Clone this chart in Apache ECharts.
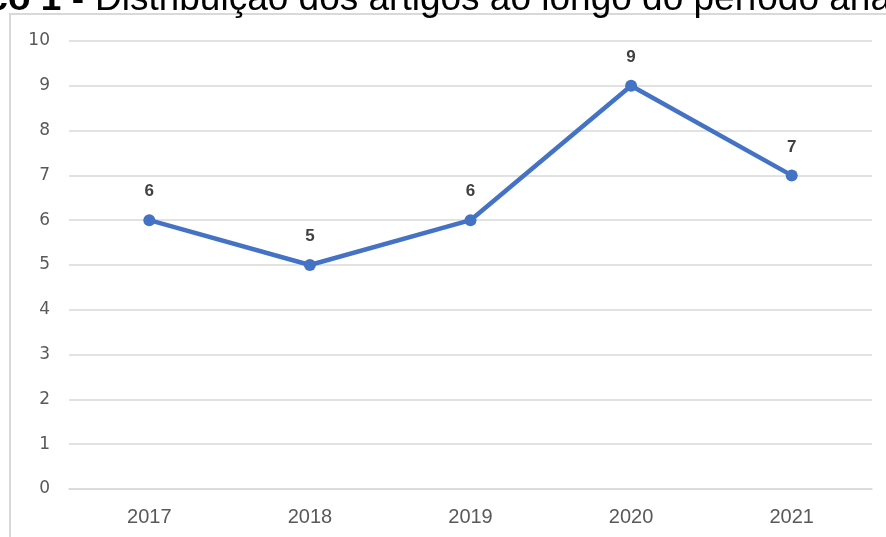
<!DOCTYPE html>
<html><head><meta charset="utf-8">
<script src="https://cdn.jsdelivr.net/npm/echarts@6/dist/echarts.min.js"></script>
<style>html,body{margin:0;padding:0;background:#fff}#c{width:886px;height:537px}</style>
</head><body><div id="c"></div>
<script>
const categories = ['2017', '2018', '2019', '2020', '2021'];
const values = [6, 5, 6, 9, 7];
const yTicks = [0, 1, 2, 3, 4, 5, 6, 7, 8, 9, 10];
const titlePrefix = 'Gráfico 1 -';
const titleMain = 'Distribuição dos artigos ao longo do período analisado';

const chart = echarts.init(document.getElementById('c'));
chart.setOption({
  backgroundColor: '#fff',
  animation: false,
  graphic: [
    {type: 'rect', shape: {x: 10, y: 14, width: 1000, height: 700}, style: {fill: 'none', stroke: '#d9d9d9', lineWidth: 2}, silent: true},
    {type: 'text', x: 84, y: 18, style: {text: titlePrefix, font: 'bold 37px "Liberation Sans", Arial', fill: '#000', textAlign: 'right', textVerticalAlign: 'bottom'}},
    {type: 'text', x: 95, y: 18, style: {text: titleMain, font: '37px "Liberation Sans", Arial', fill: '#000', textAlign: 'left', textVerticalAlign: 'bottom'}}
  ],
  grid: {left: 69, right: 14, top: 41, bottom: 48, containLabel: false},
  xAxis: {
    type: 'category', data: categories, boundaryGap: true,
    axisLine: {show: true, lineStyle: {color: '#d9d9d9', width: 1.5}},
    axisTick: {show: false},
    axisLabel: {color: '#595959', fontSize: 20, fontFamily: '"Liberation Sans"', margin: 18}
  },
  yAxis: {
    type: 'value', min: yTicks[0], max: yTicks[yTicks.length - 1], interval: 1,
    axisLine: {show: false}, axisTick: {show: false},
    splitLine: {lineStyle: {color: '#d9d9d9', width: 1.5}},
    axisLabel: {color: '#595959', fontSize: 17, fontFamily: '"DejaVu Sans"', margin: 19}
  },
  series: [{
    type: 'line', data: values,
    lineStyle: {color: '#4472C4', width: 4.5},
    itemStyle: {color: '#4472C4'},
    symbol: 'circle', symbolSize: 12,
    label: {show: true, position: 'top', distance: 14, color: '#404040', fontWeight: 'bold', fontSize: 17, fontFamily: '"Liberation Sans"'}
  }]
});
</script></body></html>
